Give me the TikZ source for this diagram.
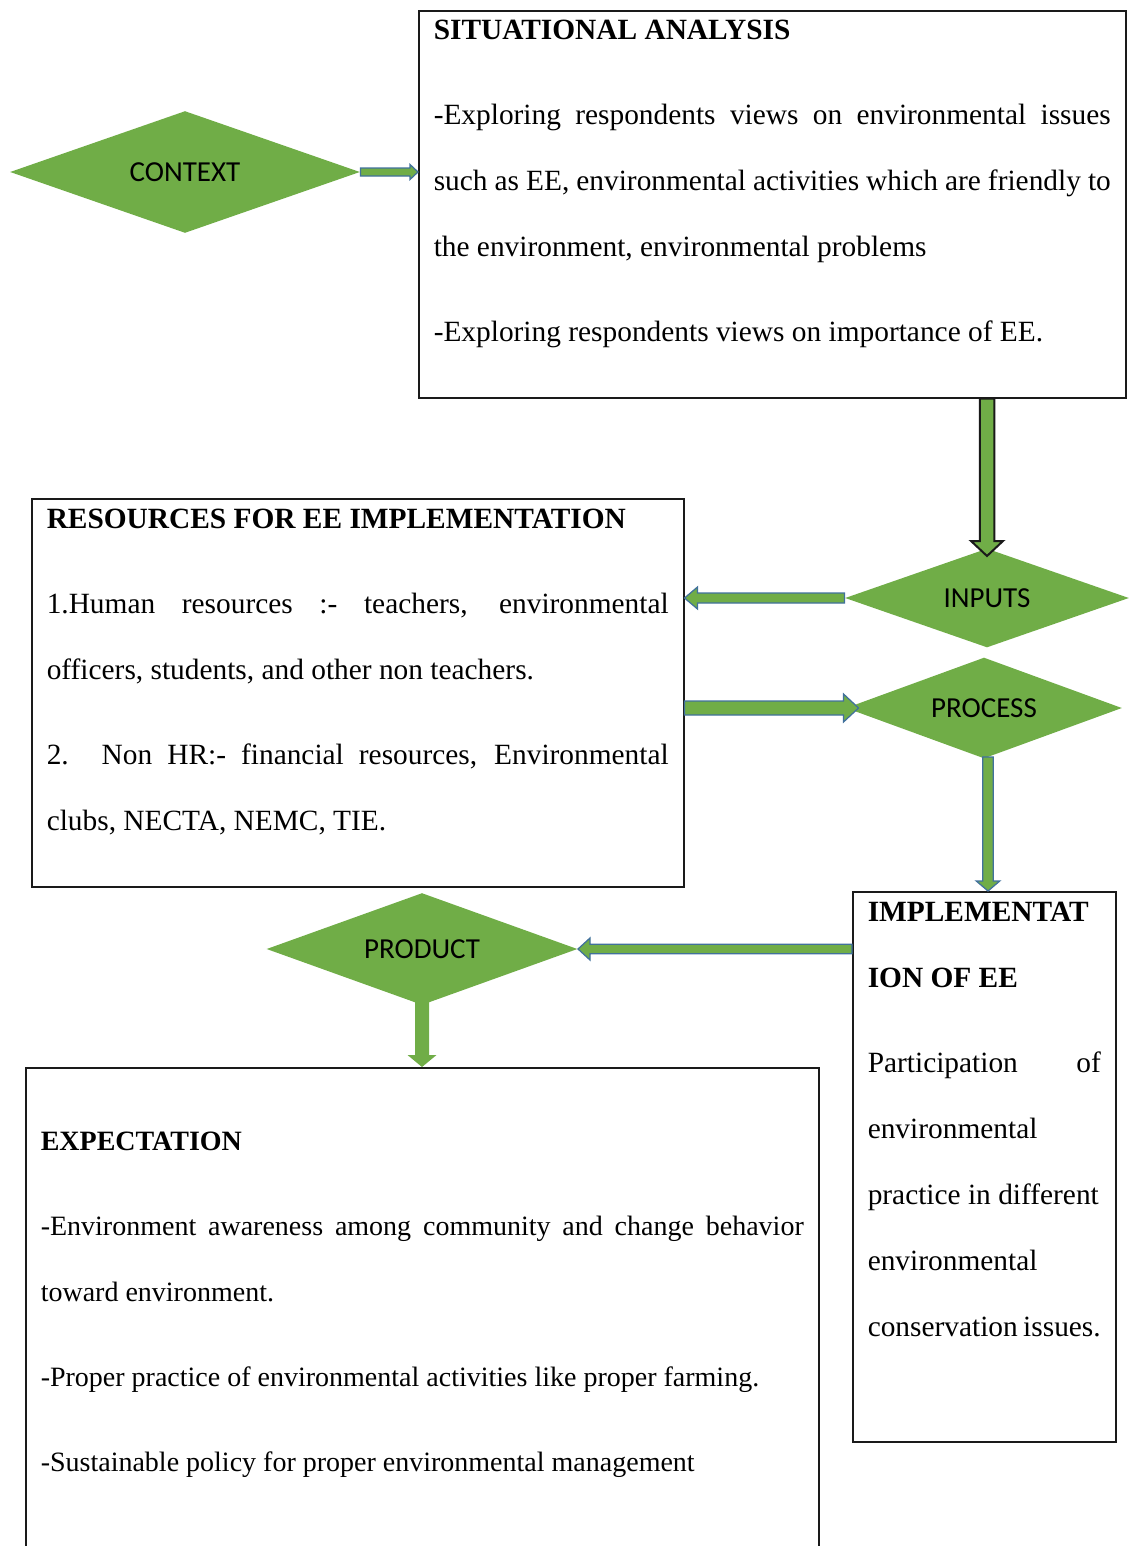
\documentclass[tikz,border=0pt]{standalone}
\usepackage{fontspec}
\setmainfont{Liberation Serif}
\newfontfamily\diafont{Carlito}
\usepackage{xcolor}
\definecolor{cGreen}{HTML}{70AD47}
\definecolor{cEdge}{HTML}{41719C}
\definecolor{cLine}{HTML}{1A1A1A}
\usepackage{tikz}
\usetikzlibrary{positioning,shapes.geometric,calc}
\newcommand{\boxfont}[1][11.75pt]{\fontsize{#1}{26.4pt}\selectfont
  \setlength{\parskip}{7.6pt}\setlength{\parindent}{0pt}}
% block arrow: [style]{from}{tip}{half shaft}{half head}{head length}
\newcommand{\flowarrow}[6][]{%
  \draw[arrow-block,#1] ($(#2)!#4!90:(#3)$) -- ($(#3)!#6!(#2)!#4!90:(#3)$)
    -- ($(#3)!#6!(#2)!#5!90:(#3)$) -- (#3)
    -- ($(#3)!#6!(#2)!#5!-90:(#3)$) -- ($(#3)!#6!(#2)!#4!-90:(#3)$)
    -- ($(#2)!#4!-90:(#3)$) -- cycle;}
\tikzset{
  box-text/.style={draw=cLine,line width=0.6pt,anchor=north west,
    inner xsep=6pt,inner ysep=0pt},
  node-dia/.style={diamond,aspect=3,fill=cGreen,draw=none,inner sep=0pt,
    font=\diafont\fontsize{11.6pt}{14pt}\selectfont,text=black},
  arrow-block/.style={fill=cGreen,draw=cEdge,line width=0.5pt,line join=miter},
  arrow-dark/.style={draw=cLine,line width=0.8pt},
  arrow-plain/.style={draw=none},
}
\begin{document}
\begin{tikzpicture}[x=0.4pt,y=-0.4pt]
  \useasboundingbox (0,0) rectangle (1132,1546);
  \clip (0,0) rectangle (1132,1546);
  % text boxes
  \node[box-text] (sit) at (418,10) {\begin{minipage}[t][154.8pt][t]{270.8pt}\boxfont
    \rule{0pt}{11.6pt}\textbf{SITUATIONAL ANALYSIS}\par
    -Exploring respondents views on environmental issues\linebreak
    such as EE, environmental activities which are friendly to\linebreak
    the environment, environmental problems\par
    -Exploring respondents views on importance of EE.
  \end{minipage}};
  \node[box-text] (res) at (31,498) {\begin{minipage}[t][155.2pt][t]{248.8pt}\boxfont
    \rule{0pt}{11.8pt}\textbf{RESOURCES FOR EE IMPLEMENTATION}\par
    1.Human resources :- teachers, environmental\linebreak
    officers, students, and other non teachers.\par
    2. Non HR:- financial resources, Environmental\linebreak
    clubs, NECTA, NEMC, TIE.
  \end{minipage}};
  \node[box-text] (impl) at (852,891) {\begin{minipage}[t][220pt][t]{93.2pt}\boxfont
    \rule{0pt}{11.8pt}\textbf{IMPLEMENTAT\\ION OF EE}\par
    Participation \hfill of\\
    environmental\\
    practice in different\\
    environmental\\
    conservation issues.
  \end{minipage}};
  \node[box-text] (expt) at (25,1067) {\begin{minipage}[t][200pt][t]{305.2pt}\boxfont[11.2pt]
    \rule{0pt}{33pt}\textbf{EXPECTATION}\par
    -Environment awareness among community and change behavior\linebreak
    toward environment.\par
    -Proper practice of environmental activities like proper farming.\par
    -Sustainable policy for proper environmental management
  \end{minipage}};
  % diamonds
  \node[node-dia,minimum width=140pt,minimum height=48.8pt] (ctx) at (185,172) {CONTEXT};
  \node[node-dia,minimum width=113.6pt,minimum height=39.6pt] (inp) at (987,598) {INPUTS};
  \node[node-dia,minimum width=110.4pt,minimum height=40.4pt] (proc) at (984,708) {PROCESS};
  \node[node-dia,minimum width=124.4pt,minimum height=44.8pt] (prod) at (422,949) {PRODUCT};
  % arrows
  \coordinate (t2) at ($(inp.north)+(0,8)$);
  \coordinate (t4) at ($(proc.west)+(13,0)$);
  \coordinate (s5) at ($(proc.south)+(4,-2)$);
  \coordinate (s7) at ($(prod.south)+(0,-6)$);
  \flowarrow{ctx.east}{ctx.east -| sit.west}{1.6pt}{3pt}{3.2pt}
  \flowarrow[arrow-dark]{t2 |- sit.south}{t2}{2.9pt}{6.4pt}{6pt}
  \flowarrow{inp.west}{inp.west -| res.east}{2pt}{4.4pt}{5.2pt}
  \flowarrow{res.east |- t4}{t4}{2.8pt}{5.6pt}{6pt}
  \flowarrow{s5}{s5 |- impl.north}{2.1pt}{4.7pt}{4pt}
  \flowarrow{impl.west |- prod.east}{prod.east}{1.9pt}{4.4pt}{4.8pt}
  \flowarrow[arrow-plain]{s7}{s7 |- expt.north}{2.8pt}{5.8pt}{4.8pt}
\end{tikzpicture}
\end{document}
